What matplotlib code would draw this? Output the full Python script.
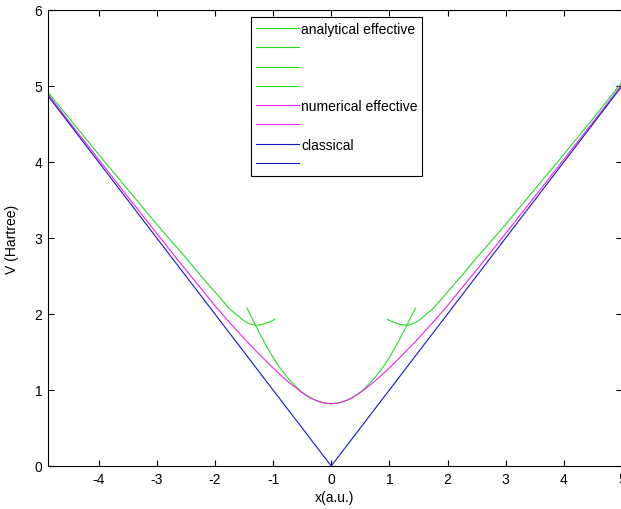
import matplotlib
matplotlib.use("Agg")
import matplotlib.pyplot as plt

plt.rcParams['font.family'] = ['Liberation Sans', 'DejaVu Sans']
plt.rcParams['axes.unicode_minus'] = False

# ---- data ----
# analytical effective: inner (small-x) branches
ana_in_left_x = [-1.45, -1.3, -1.2, -1.1, -1.0, -0.9, -0.75, -0.6, -0.5, -0.4, -0.3, -0.2, -0.1, 0.0]
ana_in_left_v = [2.08, 1.85, 1.70, 1.56, 1.43, 1.31, 1.16, 1.04, 0.97, 0.92, 0.875, 0.845, 0.826, 0.82]
ana_in_right_x = [0.0, 0.1, 0.2, 0.3, 0.4, 0.5, 0.6, 0.75, 0.9, 1.0, 1.1, 1.2, 1.3, 1.45]
ana_in_right_v = [0.82, 0.826, 0.845, 0.875, 0.92, 0.97, 1.04, 1.16, 1.31, 1.43, 1.56, 1.70, 1.85, 2.08]
# analytical effective: outer (large-x) branches
ana_out_left_x = [-4.86, -4.5, -4.0, -3.5, -3.0, -2.5, -2.25, -2.0, -1.75, -1.5, -1.4, -1.3, -1.2, -1.1, -1.03, -0.97]
ana_out_left_v = [4.91, 4.57, 4.10, 3.64, 3.18, 2.74, 2.51, 2.29, 2.07, 1.91, 1.87, 1.852, 1.86, 1.885, 1.905, 1.93]
ana_out_right_x = [0.97, 1.03, 1.1, 1.2, 1.3, 1.4, 1.5, 1.75, 2.0, 2.25, 2.5, 3.0, 3.5, 4.0, 4.5, 5.0]
ana_out_right_v = [1.93, 1.905, 1.885, 1.86, 1.852, 1.87, 1.91, 2.07, 2.29, 2.51, 2.74, 3.18, 3.64, 4.10, 4.57, 5.05]
# numerical effective
num_left_x = [-4.86, -4.5, -4.0, -3.5, -3.0, -2.5, -2.0, -1.75, -1.5, -1.25, -1.0, -0.75, -0.5, -0.35, -0.2, -0.1, 0.0]
num_left_v = [4.88, 4.525, 4.035, 3.545, 3.06, 2.58, 2.11, 1.89, 1.68, 1.48, 1.29, 1.115, 0.965, 0.89, 0.845, 0.826, 0.82]
num_right_x = [0.0, 0.1, 0.2, 0.35, 0.5, 0.75, 1.0, 1.25, 1.5, 1.75, 2.0, 2.5, 3.0, 3.5, 4.0, 4.5, 5.0]
num_right_v = [0.82, 0.826, 0.845, 0.89, 0.965, 1.115, 1.29, 1.48, 1.68, 1.89, 2.11, 2.58, 3.06, 3.545, 4.035, 4.525, 5.02]
# classical
cls_left_x = [-4.86, -2.0, 0.0]
cls_left_v = [4.86, 2.0, 0.0]
cls_right_x = [0.0, 2.0, 5.0]
cls_right_v = [0.0, 2.0, 5.0]

legend_labels = ['analytical effective', '', '', '', 'numerical effective', '', 'classical', '']
x_ticks = [-4, -3, -2, -1, 0, 1, 2, 3, 4, 5]
y_ticks = [0, 1, 2, 3, 4, 5, 6]

W, H = 621, 510
fig = plt.figure(figsize=(W / 100, H / 100), dpi=100)
ax = fig.add_axes([48 / W, (H - 467) / H, (622 - 48) / W, (467 - 11) / H])

green = '#22dd22'
magenta = '#ee22ee'
blue = '#1515cc'
lw = 0.8

handles = []
for xs, vs, c in [
    (ana_out_left_x, ana_out_left_v, green),
    (ana_in_left_x, ana_in_left_v, green),
    (ana_in_right_x, ana_in_right_v, green),
    (ana_out_right_x, ana_out_right_v, green),
    (num_left_x, num_left_v, magenta),
    (num_right_x, num_right_v, magenta),
    (cls_left_x, cls_left_v, blue),
    (cls_right_x, cls_right_v, blue),
]:
    h, = ax.plot(xs, vs, color=c, lw=lw)
    handles.append(h)

fs = 10
ax.set_xlim(-4.87, 5)
ax.set_ylim(0, 6)
ax.set_xticks(x_ticks)
ax.set_yticks(y_ticks)
ax.tick_params(direction='in', length=4, width=0.8, top=True, right=True,
               labelsize=fs, pad=4)
for s in ax.spines.values():
    s.set_linewidth(0.8)

ax.set_xlabel('x(a.u.)', fontsize=fs, labelpad=3)
ax.set_ylabel('V (Hartree)', fontsize=fs, labelpad=11)

leg = ax.legend(handles, legend_labels, loc='upper left',
                bbox_to_anchor=((251 - 48) / 574, (467 - 18) / 456),
                borderaxespad=0, fontsize=fs, frameon=True, fancybox=False,
                edgecolor='black', framealpha=1, handlelength=3.1,
                handletextpad=0.15, labelspacing=0.38, borderpad=0.35)
leg.get_frame().set_linewidth(0.8)

fig.savefig('out.png', dpi=100)
